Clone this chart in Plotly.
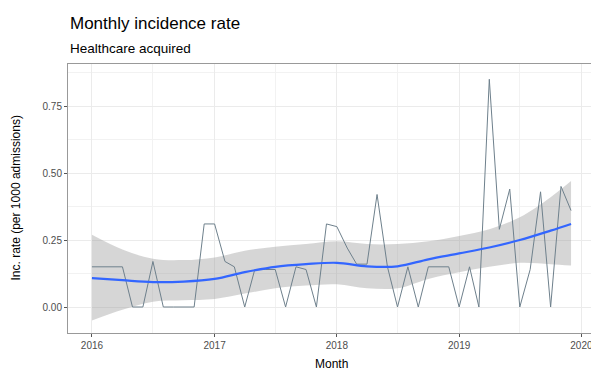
import plotly.graph_objects as go
import pandas as pd

# Monthly incidence rate (per 1000 admissions), Jan 2016 - Dec 2019
months = pd.date_range("2016-01-01", "2019-12-01", freq="MS")
rate = [0.15, 0.15, 0.15, 0.15, 0.00, 0.00, 0.17, 0.00, 0.00, 0.00, 0.00, 0.31,
        0.31, 0.17, 0.15, 0.00, 0.14, 0.14, 0.14, 0.00, 0.15, 0.14, 0.00, 0.31,
        0.30, 0.22, 0.16, 0.16, 0.42, 0.15, 0.00, 0.15, 0.00, 0.15, 0.15, 0.15,
        0.00, 0.15, 0.00, 0.85, 0.29, 0.44, 0.00, 0.14, 0.43, 0.00, 0.45, 0.36]

# Smoothed trend at selected months
smooth_dates = pd.to_datetime([
    "2016-01-01", "2016-04-01", "2016-07-01", "2016-10-01", "2017-01-01",
    "2017-04-01", "2017-07-01", "2017-10-01", "2018-01-01", "2018-04-01",
    "2018-07-01", "2018-10-01", "2019-01-01", "2019-04-01", "2019-07-01",
    "2019-10-01", "2019-12-01"])
smooth_fit = [0.108, 0.100, 0.093, 0.095, 0.105, 0.130, 0.150, 0.160, 0.165,
              0.152, 0.152, 0.178, 0.200, 0.222, 0.250, 0.285, 0.310]
smooth_upper = [0.270, 0.215, 0.180, 0.175, 0.185, 0.210, 0.225, 0.235, 0.245,
                0.235, 0.235, 0.245, 0.265, 0.290, 0.335, 0.410, 0.470]
smooth_lower = [-0.050, -0.010, 0.020, 0.025, 0.030, 0.050, 0.070, 0.080, 0.085,
                0.070, 0.070, 0.105, 0.130, 0.150, 0.165, 0.160, 0.155]

x_ticks = pd.to_datetime(["2016-01-01", "2017-01-01", "2018-01-01",
                          "2019-01-01", "2020-01-01"])
x_labels = ["2016", "2017", "2018", "2019", "2020"]
x_minor = pd.to_datetime(["2016-07-01", "2017-07-01", "2018-07-01", "2019-07-01"])
y_ticks = [0.00, 0.25, 0.50, 0.75]
y_labels = ["0.00", "0.25", "0.50", "0.75"]
y_minor = [0.125, 0.375, 0.625, 0.875]

FONT = "Liberation Sans, Arial, sans-serif"

fig = go.Figure()
fig.add_trace(go.Scatter(x=smooth_dates, y=smooth_upper, mode="lines",
                         line=dict(width=0, shape="spline"), showlegend=False,
                         hoverinfo="skip"))
fig.add_trace(go.Scatter(x=smooth_dates, y=smooth_lower, mode="lines",
                         line=dict(width=0, shape="spline"), fill="tonexty",
                         fillcolor="rgba(153,153,153,0.4)", showlegend=False,
                         hoverinfo="skip"))
fig.add_trace(go.Scatter(x=months, y=rate, mode="lines",
                         line=dict(color="rgb(110,128,140)", width=1),
                         showlegend=False))
fig.add_trace(go.Scatter(x=smooth_dates, y=smooth_fit, mode="lines",
                         line=dict(color="#3366FF", width=2.2, shape="spline"),
                         showlegend=False))

x0 = pd.Timestamp("2016-01-01") - pd.Timedelta(days=71.5)
x1 = pd.Timestamp("2019-12-01") + pd.Timedelta(days=71.5)

# page has an 8px body margin, so the figure is sized to fit inside the window
W, H = 591, 366
L, R, T, B = 60, 4, 56, 41
PW, PH = W - L - R, H - T - B

fig.update_layout(
    width=W, height=H,
    margin=dict(l=L, r=R, t=T, b=B, autoexpand=False),
    paper_bgcolor="white", plot_bgcolor="white",
    font=dict(family=FONT, color="black"),
    xaxis=dict(
        range=[x0, x1], tickmode="array", tickvals=x_ticks, ticktext=x_labels,
        showgrid=True, gridcolor="#EBEBEB", gridwidth=1,
        ticks="outside", ticklen=3, tickcolor="#555555", tickwidth=1,
        tickfont=dict(size=10, color="#4D4D4D", family=FONT),
        minor=dict(tickvals=x_minor, showgrid=True, gridcolor="#F2F2F2",
                   gridwidth=0.6),
        showline=True, linecolor="#999999", linewidth=1, mirror=True,
        zeroline=False, automargin=False,
    ),
    yaxis=dict(
        range=[-0.097, 0.907], tickmode="array", tickvals=y_ticks, ticktext=y_labels,
        showgrid=True, gridcolor="#EBEBEB", gridwidth=1,
        ticks="outside", ticklen=3, tickcolor="#555555", tickwidth=1,
        tickfont=dict(size=10, color="#4D4D4D", family=FONT),
        minor=dict(tickvals=y_minor, showgrid=True, gridcolor="#F2F2F2",
                   gridwidth=0.6),
        showline=True, linecolor="#999999", linewidth=1, mirror=True,
        zeroline=False, automargin=False,
    ),
    annotations=[
        dict(text="Monthly incidence rate", xref="paper", yref="paper",
             x=0, y=1 + (T - 15) / PH, xanchor="left", yanchor="middle",
             showarrow=False, font=dict(size=17, family=FONT, color="black")),
        dict(text="Healthcare acquired", xref="paper", yref="paper",
             x=0, y=1 + (T - 40) / PH, xanchor="left", yanchor="middle",
             showarrow=False, font=dict(size=13.5, family=FONT, color="black")),
        dict(text="Inc. rate (per 1000 admissions)", xref="paper", yref="paper",
             x=(7 - L) / PW, y=0.5, xanchor="center", yanchor="middle",
             textangle=-90, showarrow=False,
             font=dict(size=12, family=FONT, color="black")),
        dict(text="Month", xref="paper", yref="paper",
             x=0.5, y=-(356 - (H - B)) / PH, xanchor="center", yanchor="middle",
             showarrow=False, font=dict(size=12, family=FONT, color="black")),
    ],
)

fig.write_html("out.html")
